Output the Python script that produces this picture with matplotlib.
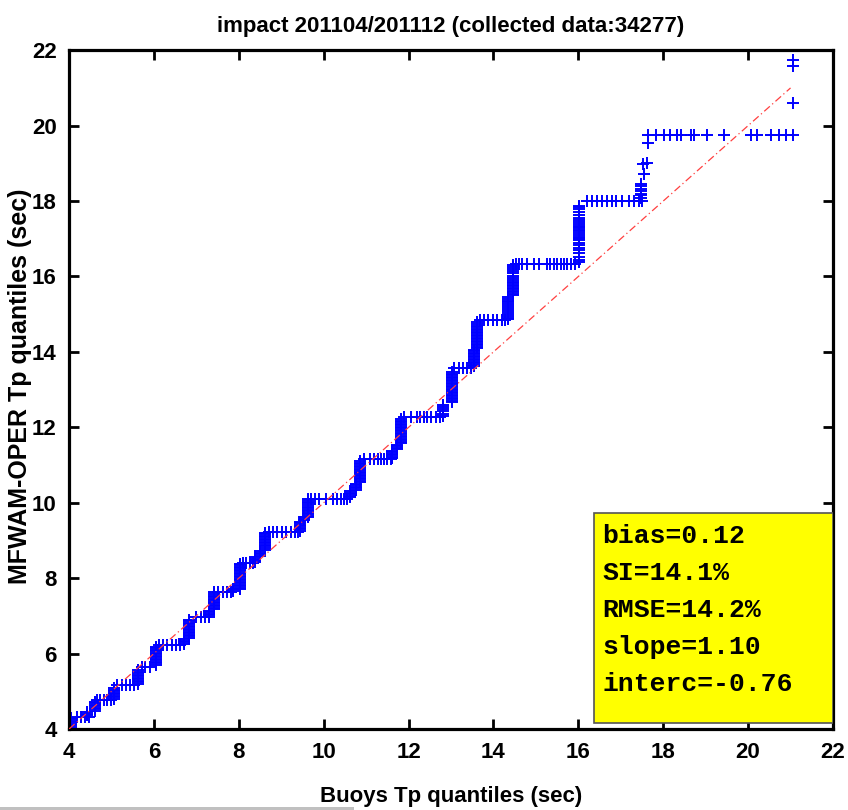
import numpy as np
import matplotlib.pyplot as plt
from matplotlib.patches import Rectangle

# quantile-quantile data
# vertical runs: buoy quantile -> model quantiles
col_x = [4.05, 4.42, 4.61, 5.05, 5.63, 6.04, 6.70, 6.83, 7.29, 7.42, 7.87, 8.03,
         8.39, 8.50, 8.62, 9.45, 9.53, 9.62, 10.63, 10.75, 10.85, 11.61, 11.72,
         11.82, 12.82, 13.02, 13.54, 13.62, 14.35, 14.45, 16.02, 17.47, 17.52,
         17.55, 17.62, 17.63, 21.06]
col_y = [
    [4.02, 4.06, 4.10, 4.14, 4.18, 4.22, 4.26, 4.30],
    [4.36, 4.40, 4.44],
    [4.48, 4.52, 4.56, 4.60, 4.64, 4.68, 4.72],
    [4.80, 4.84, 4.88, 4.92, 4.96, 5.00, 5.04, 5.08],
    [5.20, 5.24, 5.28, 5.32, 5.36, 5.40, 5.44, 5.48, 5.52, 5.56],
    [5.70, 5.74, 5.78, 5.82, 5.86, 5.90, 5.94, 5.98, 6.02, 6.06, 6.10, 6.14, 6.18],
    [6.26, 6.30, 6.34, 6.38],
    [6.42, 6.46, 6.50, 6.54, 6.58, 6.62, 6.66, 6.70, 6.74, 6.78, 6.82, 6.86, 6.90],
    [6.98, 7.02, 7.06, 7.10, 7.14],
    [7.18, 7.22, 7.26, 7.30, 7.34, 7.38, 7.42, 7.46, 7.50, 7.54, 7.58, 7.62],
    [7.66, 7.70],
    [7.70, 7.74, 7.78, 7.82, 7.86, 7.90, 7.94, 7.98, 8.02, 8.06, 8.10, 8.14,
     8.18, 8.22, 8.26, 8.30, 8.34, 8.38],
    [8.44, 8.48, 8.52, 8.56],
    [8.60, 8.64, 8.68, 8.72],
    [8.76, 8.80, 8.84, 8.88, 8.92, 8.96, 9.00, 9.04, 9.08, 9.12, 9.16, 9.20],
    [9.26, 9.30, 9.34, 9.38, 9.42, 9.46, 9.50],
    [9.54, 9.58, 9.62],
    [9.62, 9.66, 9.70, 9.74, 9.78, 9.82, 9.86, 9.90, 9.94, 9.98, 10.02, 10.06, 10.10],
    [10.14, 10.18, 10.22, 10.26, 10.30],
    [10.34, 10.38, 10.42, 10.46, 10.50],
    [10.54, 10.58, 10.62, 10.66, 10.70, 10.74, 10.78, 10.82, 10.86, 10.90,
     10.94, 10.98, 11.02, 11.06, 11.10],
    [11.18, 11.22, 11.26, 11.30, 11.34, 11.38],
    [11.42, 11.46, 11.50, 11.54],
    [11.58, 11.62, 11.66, 11.70, 11.74, 11.78, 11.82, 11.86, 11.90, 11.94,
     11.98, 12.02, 12.06, 12.10, 12.14, 12.18, 12.22],
    [12.30, 12.36, 12.42, 12.48, 12.54, 12.60],
    [12.66, 12.70, 12.74, 12.78, 12.82, 12.86, 12.90, 12.94, 12.98, 13.02,
     13.06, 13.10, 13.14, 13.18, 13.22, 13.26, 13.30, 13.34, 13.38, 13.42, 13.46],
    [13.62, 13.66, 13.70, 13.74, 13.78, 13.82, 13.86, 13.90, 13.94, 13.98, 14.02, 14.06],
    [14.10, 14.14, 14.18, 14.22, 14.26, 14.30, 14.34, 14.38, 14.42, 14.46,
     14.50, 14.54, 14.58, 14.62, 14.66, 14.70, 14.74, 14.78],
    [14.86, 14.91, 14.96, 15.01, 15.06, 15.11, 15.16, 15.21, 15.26, 15.31,
     15.36, 15.41, 15.46],
    [15.50, 15.54, 15.58, 15.62, 15.66, 15.70, 15.74, 15.78, 15.82, 15.86,
     15.90, 15.96, 16.02, 16.08, 16.14, 16.20, 16.26, 16.30],
    [16.38, 16.45, 16.52, 16.61, 16.69, 16.76, 16.83, 16.90, 16.96, 17.00,
     17.03, 17.06, 17.09, 17.14, 17.20, 17.24, 17.28, 17.31, 17.35, 17.38,
     17.44, 17.49, 17.56, 17.62, 17.70, 17.78, 17.83, 17.86],
    [18.09, 18.15, 18.20, 18.27, 18.33, 18.40, 18.46],
    [18.98],
    [18.73],
    [19.02],
    [19.53],
    [20.60, 21.57, 21.73],
]

# horizontal runs: model quantile -> buoy quantiles
row_y = [4.33, 4.77, 5.17, 5.64, 6.23, 6.96, 7.64, 8.40, 9.23, 10.11, 11.15,
         12.27, 13.56, 14.84, 16.33, 18.01, 19.75]
row_x = [
    [4.18, 4.28, 4.38, 4.48],
    [4.66, 4.74, 4.82, 4.90, 4.98],
    [5.14, 5.24, 5.34, 5.44, 5.54],
    [5.72, 5.80, 5.90],
    [6.12, 6.22, 6.32, 6.42, 6.52, 6.62],
    [7.00, 7.10, 7.20],
    [7.52, 7.62, 7.72, 7.82],
    [8.10, 8.18, 8.26, 8.34],
    [8.70, 8.80, 8.90, 9.02, 9.12, 9.22, 9.32, 9.40],
    [9.70, 9.80, 9.90, 10.05, 10.22, 10.32, 10.40, 10.48, 10.56],
    [10.95, 11.08, 11.18, 11.28, 11.35, 11.42, 11.50, 11.58],
    [11.90, 12.05, 12.20, 12.28, 12.36, 12.44, 12.54, 12.64, 12.74],
    [13.08, 13.18, 13.28, 13.38, 13.46],
    [13.68, 13.78, 13.88, 13.98, 14.08, 14.20, 14.28],
    [14.52, 14.60, 14.68, 14.79, 14.95, 15.07, 15.27, 15.34, 15.42, 15.50,
     15.58, 15.66, 15.74, 15.82, 15.93],
    [16.21, 16.33, 16.44, 16.56, 16.68, 16.80, 16.88, 17.04, 17.19, 17.31,
     17.43, 17.51],
    [17.63, 17.82, 18.02, 18.17, 18.33, 18.41, 18.65, 18.72, 19.04, 19.43,
     20.06, 20.22, 20.53, 20.73, 20.89, 21.06],
]

one_to_one = [4, 21]
stats = ["bias=0.12", "SI=14.1%", "RMSE=14.2%", "slope=1.10", "interc=-0.76"]

plt.rcParams['font.family'] = ['Liberation Sans', 'DejaVu Sans']

fig = plt.figure(figsize=(8.48, 8.10), dpi=100)
ax = fig.add_axes([0.0814, 0.1, 0.9009, 0.838])

# collect points
bx, my = [], []
for x, ys in zip(col_x, col_y):
    bx += [x] * len(ys)
    my += ys
for y, xs in zip(row_y, row_x):
    bx += xs
    my += [y] * len(xs)

ax.plot(bx, my, '+', color='#0000ff', markersize=8.5, mew=1.4, zorder=2)
ax.plot(one_to_one, one_to_one, color='#ff4040', lw=0.9,
        linestyle=(0, (6, 2.5, 1, 2.5)), zorder=3)

ax.set_xlim(4, 22)
ax.set_ylim(4, 22)
ticks = np.arange(4, 23, 2)
ax.set_xticks(ticks)
ax.set_yticks(ticks)
ax.tick_params(direction='in', length=7, width=2, top=True, right=True,
               labelsize=16, pad=9)
for lab in ax.get_xticklabels() + ax.get_yticklabels():
    lab.set_fontweight('bold')
for sp in ax.spines.values():
    sp.set_linewidth(2.3)

ax.set_xlabel('Buoys Tp quantiles (sec)', fontsize=16, fontweight='bold', labelpad=17)
ax.set_ylabel('MFWAM-OPER Tp quantiles (sec)', fontsize=18, fontweight='bold')
ax.yaxis.set_label_coords(-0.048, 0.505)
ax.set_title('impact 201104/201112 (collected data:34277)', fontsize=16,
             fontweight='bold', pad=13)

# statistics box
box = Rectangle((16.37, 4.16), 5.62, 5.57, facecolor='#ffff00', edgecolor='#555555',
                lw=1.2, zorder=4)
ax.add_patch(box)
for i, s in enumerate(stats):
    ax.text(16.56, 8.93 - i * 0.98, s, fontsize=19, family='Liberation Mono',
            fontweight='bold', va='baseline', ha='left', zorder=5)

# grey strip at bottom of the screenshot
fig.add_artist(Rectangle((0, 0), 0.418, 0.004, transform=fig.transFigure,
                         facecolor='#c0c0c0', edgecolor='none'))

fig.savefig('out.png', dpi=100)
